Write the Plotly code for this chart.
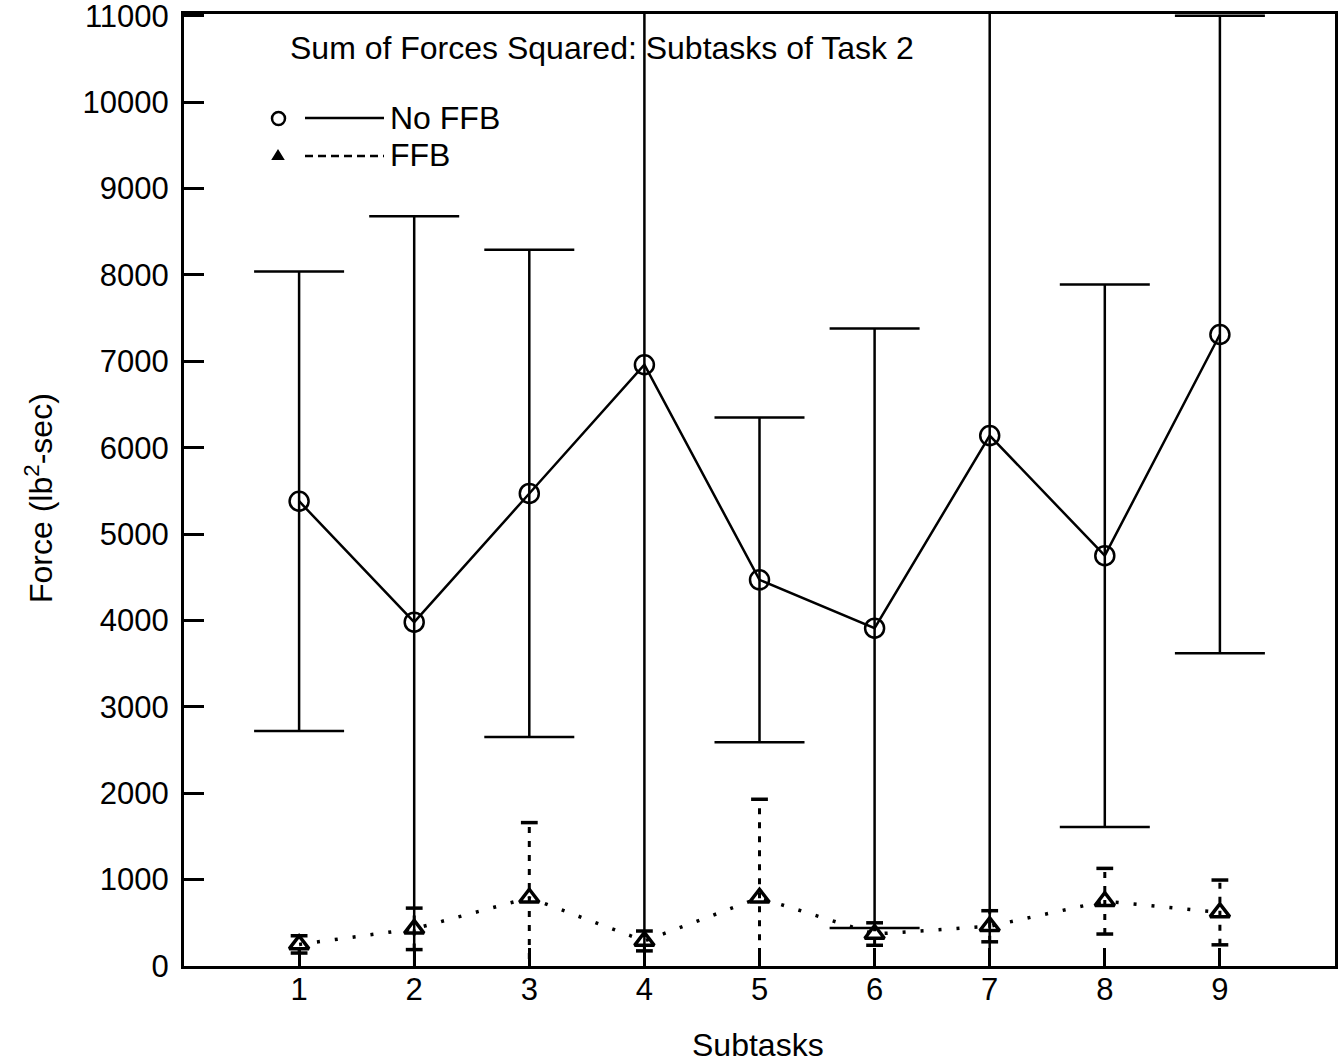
import plotly.graph_objects as go

subtasks = [1, 2, 3, 4, 5, 6, 7, 8, 9]
tick_labels = ["1", "2", "3", "4", "5", "6", "7", "8", "9"]

nofbb_mean = [5380, 3980, 5470, 6960, 4470, 3910, 6140, 4750, 7310]
nofbb_err = [2660, 4700, 2820, 7500, 1880, 3470, 6500, 3140, 3690]

ffb_mean = [250, 430, 790, 290, 790, 370, 460, 750, 620]
ffb_err = [100, 240, 870, 115, 1140, 130, 180, 380, 375]

y_ticks = [0, 1000, 2000, 3000, 4000, 5000, 6000, 7000, 8000, 9000, 10000, 11000]
y_tick_labels = [str(v) for v in y_ticks]

FONT = "Liberation Sans, Arial, sans-serif"
FS = 31

fig = go.Figure()

# No FFB: solid line, open circles, solid error bars
fig.add_trace(go.Scatter(
    x=subtasks, y=nofbb_mean, mode="lines+markers",
    line=dict(color="black", width=2.5),
    marker=dict(symbol="circle-open", size=19, color="black", line=dict(width=2.5)),
    error_y=dict(type="data", array=nofbb_err, visible=True, color="black",
                 thickness=2.5, width=45),
    showlegend=False, cliponaxis=True,
))

# FFB error bars: dashed vertical segments with short caps
ex, ey = [], []
for xv, m, e in zip(subtasks, ffb_mean, ffb_err):
    ex += [xv, xv, None]
    ey += [m - e, m + e, None]
fig.add_trace(go.Scatter(
    x=ex, y=ey, mode="lines",
    line=dict(color="black", width=3, dash="6px,8px"),
    showlegend=False, hoverinfo="skip",
))
cap_x, cap_y = [], []
for xv, m, e in zip(subtasks, ffb_mean, ffb_err):
    cap_x += [xv, xv]
    cap_y += [m - e, m + e]
fig.add_trace(go.Scatter(
    x=cap_x, y=cap_y, mode="markers",
    marker=dict(symbol="line-ew-open", size=12, color="black", line=dict(width=3.5, color="black")),
    showlegend=False, hoverinfo="skip",
))

# FFB: dotted line, open triangles
fig.add_trace(go.Scatter(
    x=subtasks, y=ffb_mean, mode="lines+markers",
    line=dict(color="black", width=3.5, dash="3px,15px"),
    marker=dict(symbol="triangle-up-open", size=17, color="black", line=dict(width=3.5)),
    showlegend=False,
))

fig.update_xaxes(
    range=[0, 10], tickvals=subtasks, ticktext=tick_labels,
    ticks="inside", ticklen=18, tickwidth=2.5, tickcolor="black",
    showline=True, linewidth=3, linecolor="black", mirror=True,
    showgrid=False, zeroline=False, automargin=False,
    ticklabelstandoff=-6,
    tickfont=dict(family=FONT, size=FS, color="black"),
)
fig.update_yaxes(
    range=[0, 11020], tickvals=y_ticks, ticktext=y_tick_labels,
    ticks="inside", ticklen=20, tickwidth=2.5, tickcolor="black",
    showline=True, linewidth=3, linecolor="black", mirror=True,
    showgrid=False, zeroline=False, automargin=False,
    ticklabeloverflow="allow", ticklabelstandoff=6,
    tickfont=dict(family=FONT, size=FS, color="black"),
)

L, R, T, B = 184, 8, 14, 98
W, H = 1343, 1064
pw, ph = W - L - R, H - T - B


def px(x):
    return (x - L) / pw


def py(y):
    return (H - B - y) / ph


shapes = [
    # legend: No FFB
    dict(type="circle", xref="paper", yref="paper",
         x0=px(272), x1=px(285), y0=py(125), y1=py(112),
         line=dict(color="black", width=2.5)),
    dict(type="line", xref="paper", yref="paper",
         x0=px(305), x1=px(384), y0=py(118), y1=py(118),
         line=dict(color="black", width=2.5)),
    # legend: FFB
    dict(type="path", xref="paper", yref="paper",
         path=f"M {px(273)} {py(159)} L {px(283)} {py(159)} L {px(278)} {py(151)} Z",
         fillcolor="black", line=dict(color="black", width=2)),
    dict(type="line", xref="paper", yref="paper",
         x0=px(305), x1=px(384), y0=py(156), y1=py(156),
         line=dict(color="black", width=2.5, dash="8px,5px")),
]

annotations = [
    dict(text="Sum of Forces Squared: Subtasks of Task 2", xref="paper", yref="paper",
         x=px(602), y=py(48), xanchor="center", yanchor="middle", showarrow=False,
         font=dict(family=FONT, size=32, color="black")),
    dict(text="No FFB", xref="paper", yref="paper",
         x=px(388), y=py(118), xanchor="left", yanchor="middle", showarrow=False,
         font=dict(family=FONT, size=32, color="black")),
    dict(text="FFB", xref="paper", yref="paper",
         x=px(388), y=py(155), xanchor="left", yanchor="middle", showarrow=False,
         font=dict(family=FONT, size=32, color="black")),
    dict(text="Subtasks", xref="paper", yref="paper",
         x=px(758), y=py(1045), xanchor="center", yanchor="middle", showarrow=False,
         font=dict(family=FONT, size=32, color="black")),
    dict(text="Force (lb<sup>2</sup>-sec)", xref="paper", yref="paper",
         x=px(39), y=py(498), xanchor="center", yanchor="middle", showarrow=False,
         textangle=-90, font=dict(family=FONT, size=32, color="black")),
]

fig.update_layout(
    width=W, height=H,
    margin=dict(l=L, r=R, t=T, b=B),
    paper_bgcolor="white", plot_bgcolor="white",
    shapes=shapes, annotations=annotations,
    showlegend=False,
)

fig.write_html("out.html", config={"displayModeBar": False},
               post_script="document.body.style.margin='0';")
